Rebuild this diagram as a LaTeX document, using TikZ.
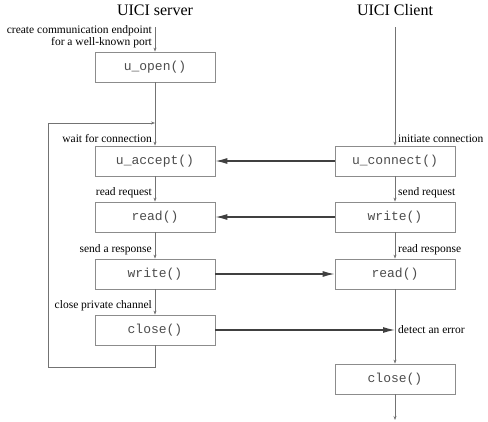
\documentclass[tikz,border=0pt]{standalone}
\usepackage{fontspec}
\setmainfont{Liberation Serif}
\setmonofont{Liberation Mono}
\usetikzlibrary{arrows.meta}

\begin{document}
\begin{tikzpicture}[x=1pt, y=-1pt,
	call/.style={rectangle, draw=black!45, line width=0.8pt, minimum width=120pt, minimum height=30pt, inner sep=0pt, text=black!70, font=\fontsize{13}{13}\selectfont\ttfamily},
	lbl/.style={inner sep=1pt, font=\fontsize{11.5}{12}\selectfont},
	flow/.style={draw=black!55, line width=0.8pt, -{Stealth[length=4pt, width=3pt]}},
	msg/.style={draw=black!75, line width=1.2pt, -{Latex[length=12pt, width=6pt]}}]
	\useasboundingbox (0,0) rectangle (488,421);

	\begin{scope}
		\node[font=\fontsize{16}{16}\selectfont] (srv) at (155, 10) {UICI server};
		\coordinate (srvtop) at (155, 27);

		\node[call] (open) at (155, 67) {u\_open()};
		\node[call] (accept) at (155, 161) {u\_accept()};
		\node[call] (sread) at (155, 217) {read()};
		\node[call] (swrite) at (155, 274) {write()};
		\node[call] (sclose) at (155, 330) {close()};

		\coordinate (join) at (155, 123);
		\coordinate (loopa) at (48, 367);
		\coordinate (loopb) at (155, 367);

		% Labels on the server side
		\node[lbl, anchor=south east, align=right] (endpoint) at ([xshift=-2pt, yshift=2pt]open.north) {create communication endpoint\\for a well-known port};
		\node[lbl, anchor=south east] (wait) at ([xshift=-2pt, yshift=2pt]accept.north) {wait for connection};
		\node[lbl, anchor=south east] (request) at ([xshift=-2pt, yshift=2pt]sread.north) {read request};
		\node[lbl, anchor=south east] (response) at ([xshift=-2pt, yshift=2pt]swrite.north) {send a response};
		\node[lbl, anchor=south east] (private) at ([xshift=-2pt, yshift=2pt]sclose.north) {close private channel};

		% Server flow
		\draw[flow] (srvtop) -- (open);
		\draw[draw=black!55, line width=0.8pt] (open) -- (join);
		\draw[flow] (join) -- (accept);
		\draw[flow] (accept) -- (sread);
		\draw[flow] (sread) -- (swrite);
		\draw[flow] (swrite) -- (sclose);
		\draw[flow] (sclose.south) -- (loopb) -- (loopa) |- (join);
	\end{scope}

	\begin{scope}
		\node[font=\fontsize{16}{16}\selectfont] (clt) at (395, 10) {UICI Client};
		\coordinate (clttop) at (395, 27);

		\node[call] (connect) at (395, 161) {u\_connect()};
		\node[call] (cwrite) at (395, 217) {write()};
		\node[call] (cread) at (395, 274) {read()};
		\node[call] (cclose) at (395, 379) {close()};

		\coordinate (err) at (395, 330);
		\coordinate (cend) at (395, 420);

		% Labels on the client side
		\node[lbl, anchor=south west] (initiate) at ([xshift=2pt, yshift=2pt]connect.north) {initiate connection};
		\node[lbl, anchor=south west] (send) at ([xshift=2pt, yshift=2pt]cwrite.north) {send request};
		\node[lbl, anchor=south west] (readresp) at ([xshift=2pt, yshift=2pt]cread.north) {read response};
		\node[lbl, anchor=west] (detect) at ([xshift=2pt]err) {detect an error};

		% Client flow
		\draw[flow] (clttop) -- (connect);
		\draw[flow] (connect) -- (cwrite);
		\draw[flow] (cwrite) -- (cread);
		\draw[draw=black!55, line width=0.8pt] (cread) -- (err);
		\draw[flow] (err) -- (cclose);
		\draw[flow] (cclose) -- (cend);
	\end{scope}

	% Messages between server and client
	\draw[msg] (connect) -- (accept);
	\draw[msg] (cwrite) -- (sread);
	\draw[msg] (swrite) -- (cread);
	\draw[msg] (sclose) -- (err);
\end{tikzpicture}
\end{document}
